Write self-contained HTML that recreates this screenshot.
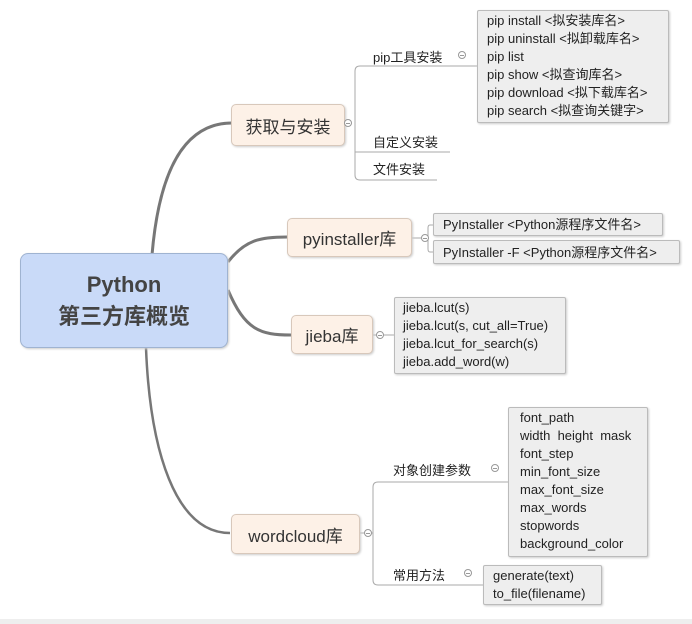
<!DOCTYPE html>
<html><head><meta charset="utf-8"><style>
body{margin:0;width:692px;height:624px;background:#fff;position:relative;overflow:hidden;font-family:"Liberation Sans","Noto Sans CJK SC",sans-serif;color:#333}
.n{position:absolute;box-sizing:border-box;background:#fdf1e7;border:1px solid #d8c8bb;border-radius:5px;display:flex;align-items:center;justify-content:center;font-size:17px;color:#333;box-shadow:1px 1px 2px #ccc;text-align:center}
.b{position:absolute;box-sizing:border-box;background:#eee;border:1px solid #bbb;border-radius:2px;font-size:13px;line-height:18px;padding:1px 0 0 9px;color:#222;box-shadow:1px 1px 2px #ccc;white-space:nowrap}
.t{position:absolute;font-size:13px;color:#222;white-space:nowrap}
.c{position:absolute;width:8px;height:8px;border:1px solid #999;border-radius:50%;box-sizing:border-box;background:#fff}
.c:after{content:"";position:absolute;left:1px;right:1px;top:3px;height:1px;background:#999}
</style></head><body>
<svg width="692" height="624" style="position:absolute;left:0;top:0">
<g fill="none" stroke="#777">
<path d="M152 255 C160 160,190 123,232 123" stroke-width="3"/>
<path d="M228 262 C245 240,260 237,287 237" stroke-width="3"/>
<path d="M228 290 C245 330,260 335,291 335" stroke-width="3"/>
<path d="M146 348 C150 450,175 533,230 533" stroke-width="2.5"/>
</g>
<g fill="none" stroke="#aaa" stroke-width="1">
<path d="M345 123 H352"/><path d="M477 66 H360 Q355 66 355 71 V175 Q355 180 360 180 H437"/><path d="M355 152 H450"/>
<path d="M412 238 H428"/><path d="M433 225 H430 Q428 225 428 228 V249 Q428 252 430 252 H433"/>
<path d="M373 335 H394"/>
<path d="M360 533 H373"/><path d="M508 482 H378 Q373 482 373 487 V580 Q373 585 378 585 H483"/>
</g></svg>
<div class="n" style="left:20px;top:253px;width:208px;height:95px;background:#c9daf8;border-color:#9fb3d1;border-radius:8px;font-weight:bold;font-size:22px;color:#444;line-height:32px"><div style="text-align:center">Python<br>第三方库概览</div></div>
<div class="n" style="left:231px;top:104px;width:114px;height:42px">获取与安装</div>
<div class="c" style="left:344px;top:119px"></div>
<div class="t" style="left:373px;top:47px">pip工具安装</div><div class="c" style="left:458px;top:51px"></div>
<div class="t" style="left:373px;top:132px">自定义安装</div>
<div class="t" style="left:373px;top:159px">文件安装</div>
<div class="b" style="left:477px;top:10px;width:192px;height:113px">pip install &lt;拟安装库名&gt;<br>pip uninstall &lt;拟卸载库名&gt;<br>pip list<br>pip show &lt;拟查询库名&gt;<br>pip download &lt;拟下载库名&gt;<br>pip search &lt;拟查询关键字&gt;</div>
<div class="n" style="left:287px;top:218px;width:125px;height:39px">pyinstaller库</div>
<div class="c" style="left:421px;top:234px"></div>
<div class="b" style="left:433px;top:213px;width:230px;height:23px;padding-top:2px">PyInstaller &lt;Python源程序文件名&gt;</div>
<div class="b" style="left:433px;top:240px;width:247px;height:24px;padding-top:3px">PyInstaller -F &lt;Python源程序文件名&gt;</div>
<div class="n" style="left:291px;top:315px;width:82px;height:39px">jieba库</div>
<div class="c" style="left:376px;top:331px"></div>
<div class="b" style="left:394px;top:297px;width:172px;height:77px;padding-left:8px">jieba.lcut(s)<br>jieba.lcut(s, cut_all=True)<br>jieba.lcut_for_search(s)<br>jieba.add_word(w)</div>
<div class="n" style="left:231px;top:514px;width:129px;height:40px">wordcloud库</div>
<div class="c" style="left:364px;top:529px"></div>
<div class="t" style="left:393px;top:460px">对象创建参数</div><div class="c" style="left:491px;top:464px"></div>
<div class="b" style="left:508px;top:407px;width:140px;height:150px;padding-left:11px">font_path<br>width&nbsp; height&nbsp; mask<br>font_step<br>min_font_size<br>max_font_size<br>max_words<br>stopwords<br>background_color</div>
<div class="t" style="left:393px;top:565px">常用方法</div><div class="c" style="left:464px;top:569px"></div>
<div class="b" style="left:483px;top:565px;width:119px;height:40px">generate(text)<br>to_file(filename)</div>
<div style="position:absolute;left:0;top:619px;width:692px;height:5px;background:#eee"></div>
</body></html>
